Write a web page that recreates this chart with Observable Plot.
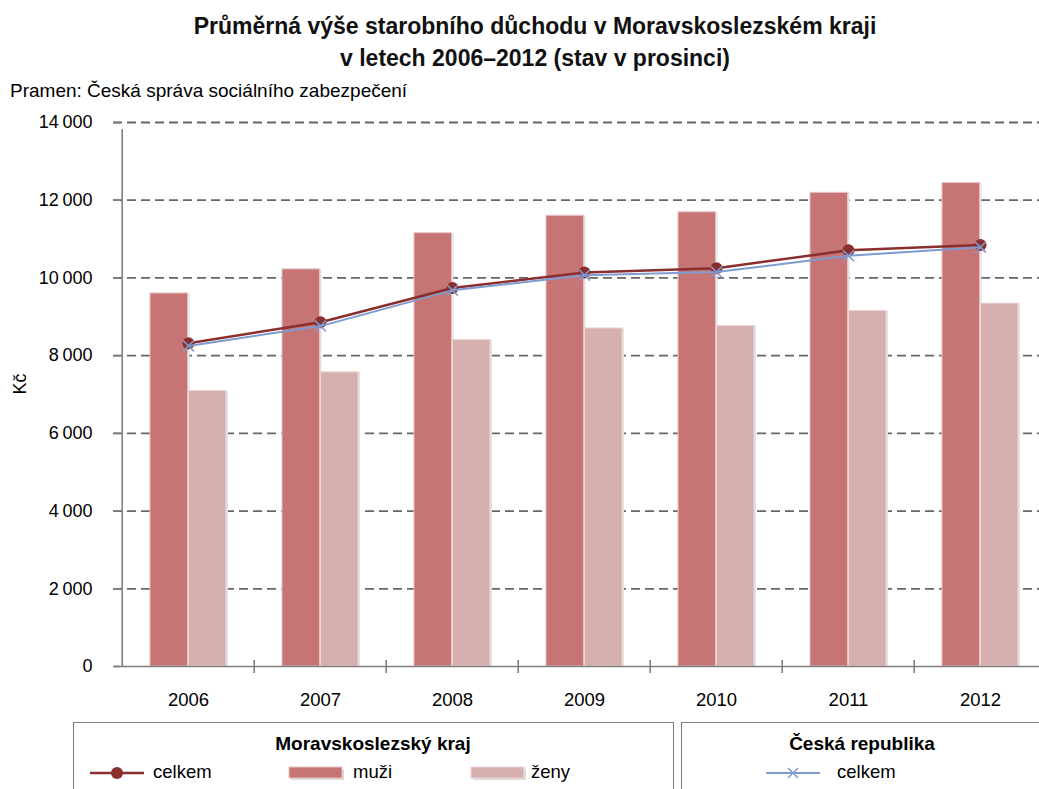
<!DOCTYPE html>
<html>
<head>
<meta charset="utf-8">
<script src="https://cdn.jsdelivr.net/npm/d3@7"></script>
<script src="https://cdn.jsdelivr.net/npm/@observablehq/plot@0.6"></script>
<style>
  html, body { margin: 0; padding: 0; background: #fff; }
  body { width: 1039px; height: 789px; overflow: hidden; font-family: "Liberation Sans", Arial, sans-serif; color: #000; }
  #wrap { position: relative; width: 1039px; height: 789px; overflow: hidden; }
  .abs { position: absolute; white-space: nowrap; }
  #title { left: 0; width: 1070px; top: 10px; text-align: center; font-weight: bold; font-size: 23px; line-height: 32px; color: #111; }
  #source { left: 10px; top: 80px; font-size: 19px; }
  #chart { left: 0; top: 100px; width: 1048px; line-height: 0; }
  #chart svg { max-width: none !important; display: block; }
  .box { position: absolute; border: 1.5px solid #7f7f7f; top: 722px; height: 90px; }
  .lt { position: absolute; font-size: 18.5px; white-space: nowrap; }
  .lh { position: absolute; font-size: 19px; font-weight: bold; white-space: nowrap; }
</style>
</head>
<body>
<div id="wrap">
  <div id="title" class="abs">Průměrná výše starobního důchodu v Moravskoslezském kraji<br>v letech 2006–2012 (stav v prosinci)</div>
  <div id="source" class="abs">Pramen: Česká správa sociálního zabezpečení</div>
  <div id="chart" class="abs"></div>
  <div id="legend"></div>
</div>
<script>
// ---- data (Kč) ----
const years = ["2006", "2007", "2008", "2009", "2010", "2011", "2012"];
const muzi = [9600, 10220, 11150, 11600, 11690, 12190, 12440];        // MSK muži
const zeny = [7090, 7570, 8400, 8700, 8760, 9150, 9340];              // MSK ženy
const mskCelkem = [8320, 8860, 9740, 10140, 10250, 10710, 10850];     // MSK celkem
const crCelkem = [8250, 8760, 9680, 10070, 10150, 10570, 10790];      // ČR celkem
const yTicks = [0, 2000, 4000, 6000, 8000, 10000, 12000, 14000];

// ---- styles ----
const colMuzi = "#c77474";
const colZeny = "#d8afaf";
const colMsk = "#8b2e2e";
const colCr = "#7f9bd0";
const axisCol = "#7f7f7f";

const rows = years.map((y, i) => ({year: y, muzi: muzi[i], zeny: zeny[i], msk: mskCelkem[i], cr: crCelkem[i]}));

const W = 1048, H = 615, mL = 120, mR = 0, mT = 22, mB = 49;
const padInner = 0.4267, padOuter = padInner / 2;
const step = (W - mL - mR) / years.length;
const half = step * (1 - padInner) / 2;

const plot = Plot.plot({
  width: W, height: H,
  marginLeft: mL, marginRight: mR, marginTop: mT, marginBottom: mB,
  style: {fontFamily: "'Liberation Sans', Arial, sans-serif", fontSize: "18px", color: "#000", background: "transparent", maxWidth: "none"},
  x: {domain: years, type: "band", paddingInner: padInner, paddingOuter: padOuter, label: null},
  y: {domain: [0, 14000], range: [H - mB, mT], label: null},
  marks: [
    // dashed gridlines
    Plot.ruleY(yTicks.filter(d => d > 0), {stroke: "#666666", strokeWidth: 1.8, strokeDasharray: "9,5", insetLeft: -7}),
    // bar shadows
    Plot.barY(rows, {x: "year", y: "muzi", fill: "#e2e2e2", dx: 2, insetRight: half + 0.5}),
    Plot.barY(rows, {x: "year", y: "zeny", fill: "#e2e2e2", dx: 2, insetLeft: half + 0.5}),
    // bars
    Plot.barY(rows, {x: "year", y: "muzi", fill: colMuzi, stroke: "#e6c4c4", strokeWidth: 1, insetRight: half + 0.5}),
    Plot.barY(rows, {x: "year", y: "zeny", fill: colZeny, stroke: "#ecd6d6", strokeWidth: 1, insetLeft: half + 0.5}),
    // axis lines and category boundary ticks
    Plot.ruleY([0], {stroke: axisCol, strokeWidth: 1.6, insetLeft: -6}),
    Plot.ruleX([years[0]], {x: d => d, dx: -step / 2, y1: 0, y2: 14000, stroke: axisCol, strokeWidth: 1.6, insetBottom: -7}),
    Plot.ruleX(years.slice(1), {x: d => d, dx: -step / 2, y1: 0, y2: 0, insetTop: -6, insetBottom: -7, stroke: axisCol, strokeWidth: 1.6}),
    Plot.axisY(yTicks, {tickSize: 7, tickPadding: 21, stroke: axisCol, strokeWidth: 1.6, fontSize: 18, letterSpacing: "0.3px",
      tickFormat: d => d3.format(",")(d).replace(/,/g, "\u2009"), label: null}),
    Plot.axisX({tickSize: 0, tickPadding: 26, fontSize: 18.5, label: null}),
    Plot.text(["Kč"], {frameAnchor: "left", dx: -100, rotate: -90, fontSize: 18}),
    // lines
    Plot.lineY(rows, {x: "year", y: "msk", stroke: colMsk, strokeWidth: 2.5}),
    Plot.dot(rows, {x: "year", y: "msk", fill: colMsk, r: 6}),
    Plot.lineY(rows, {x: "year", y: "cr", stroke: colCr, strokeWidth: 2}),
    Plot.dot(rows, {x: "year", y: "cr", symbol: "times", stroke: colCr, strokeWidth: 1.6, r: 5})
  ]
});
document.getElementById("chart").appendChild(plot);

// ---- legend (HTML below the chart) ----
const lg = document.getElementById("legend");
lg.innerHTML = `
  <div class="box" style="left:73px;width:599px;"></div>
  <div class="box" style="left:681px;width:380px;"></div>
  <div class="lh" style="left:73px;width:600px;text-align:center;top:733px;">Moravskoslezský kraj</div>
  <div class="lh" style="left:681px;width:362px;text-align:center;top:733px;">Česká republika</div>
  <svg style="position:absolute;left:88px;top:764px" width="58" height="18"><line x1="2" x2="56" y1="9" y2="9" stroke="${colMsk}" stroke-width="2.5"/><circle cx="29" cy="9" r="6" fill="${colMsk}"/></svg>
  <div class="lt" style="left:153px;top:761px;">celkem</div>
  <svg style="position:absolute;left:288px;top:765px" width="58" height="18"><rect x="3" y="4" width="53" height="11" fill="#dcdcdc"/><rect x="1" y="2" width="53" height="11" fill="${colMuzi}" stroke="#e6c4c4"/></svg>
  <div class="lt" style="left:353px;top:761px;">muži</div>
  <svg style="position:absolute;left:470px;top:765px" width="58" height="18"><rect x="3" y="4" width="53" height="11" fill="#dcdcdc"/><rect x="1" y="2" width="53" height="11" fill="${colZeny}" stroke="#ecd6d6"/></svg>
  <div class="lt" style="left:531px;top:761px;">ženy</div>
  <svg style="position:absolute;left:764px;top:764px" width="58" height="18"><line x1="2" x2="56" y1="9" y2="9" stroke="${colCr}" stroke-width="2"/><path d="M24,4L34,14M34,4L24,14" stroke="${colCr}" stroke-width="1.5"/></svg>
  <div class="lt" style="left:837px;top:761px;">celkem</div>
`;
</script>
</body>
</html>
